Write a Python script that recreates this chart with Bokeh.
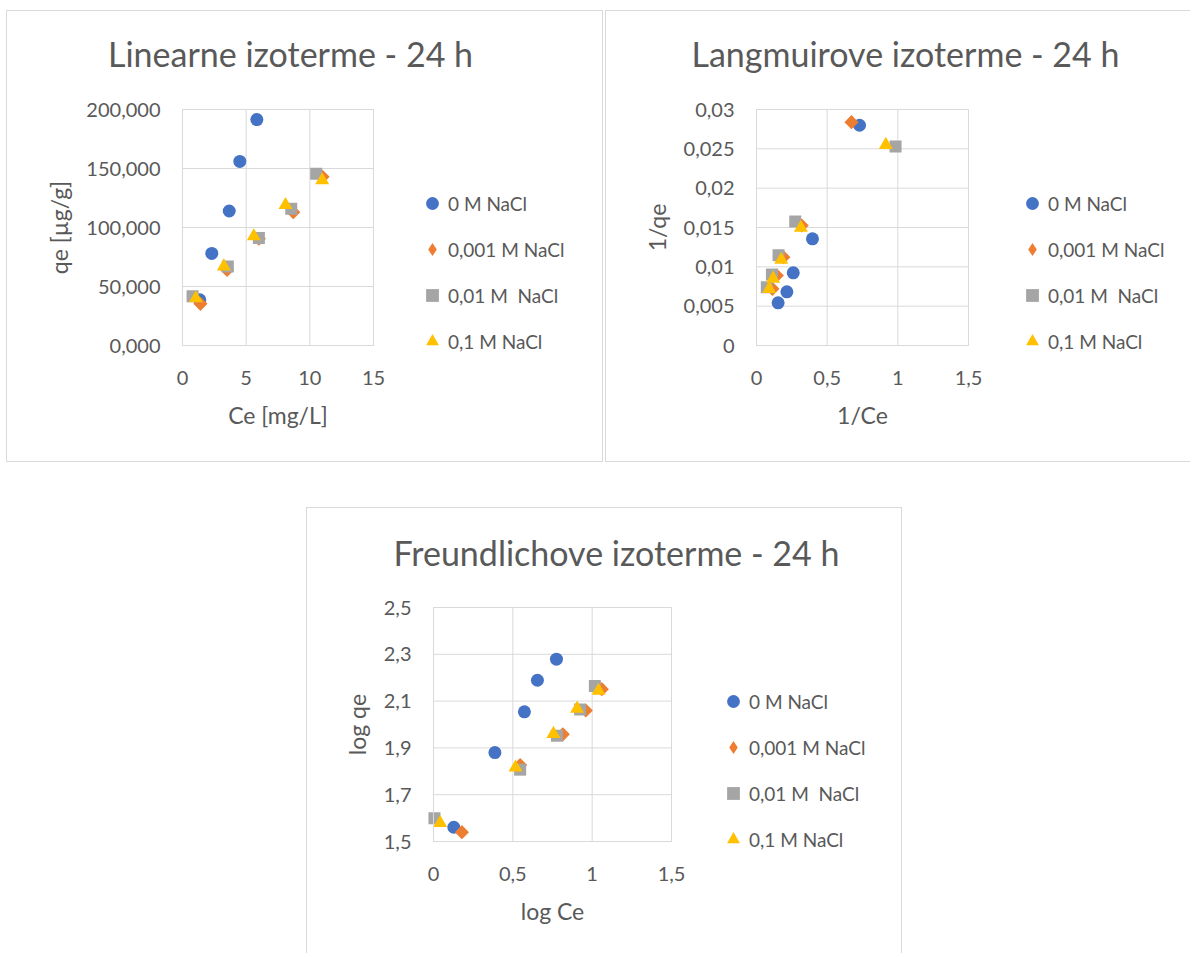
import math
from bokeh.plotting import figure
from bokeh.layouts import column, row
from bokeh.models import Range1d, FixedTicker, Legend, LegendItem, Spacer, Label
from bokeh.embed import file_html
from bokeh.resources import INLINE

# ---------------- data ----------------
series_labels = ["0 M NaCl", "0,001 M NaCl", "0,01 M  NaCl", "0,1 M NaCl"]

# Linearne izoterme: Ce [mg/L] vs qe [µg/g]
lin_ce_0 = [1.36, 2.30, 3.67, 4.50, 5.84]
lin_qe_0 = [38.7, 78.0, 114.0, 156.0, 191.5]
lin_ce_001 = [1.41, 3.50, 6.00, 8.70, 11.00]
lin_qe_001 = [35.3, 64.0, 90.5, 113.0, 143.0]
lin_ce_01 = [0.79, 3.56, 6.00, 8.54, 10.50]
lin_qe_01 = [41.8, 67.0, 91.0, 115.8, 145.5]
lin_ce_1 = [1.05, 3.25, 5.60, 8.09, 10.97]
lin_qe_1 = [40.0, 67.0, 92.6, 119.0, 140.0]

# Langmuirove izoterme: 1/Ce vs 1/qe
lang_x_0 = [0.153, 0.215, 0.260, 0.396, 0.729]
lang_y_0 = [0.00543, 0.00682, 0.00924, 0.01356, 0.0280]
lang_x_001 = [0.113, 0.144, 0.190, 0.320, 0.672]
lang_y_001 = [0.0072, 0.0089, 0.01123, 0.01525, 0.02839]
lang_x_01 = [0.073, 0.109, 0.156, 0.274, 0.984]
lang_y_01 = [0.0074, 0.00902, 0.01148, 0.01576, 0.0253]
lang_x_1 = [0.090, 0.118, 0.175, 0.314, 0.915]
lang_y_1 = [0.0072, 0.0085, 0.0109, 0.01496, 0.0255]

# Freundlichove izoterme: log Ce vs log qe
fr_x_0 = [0.128, 0.387, 0.573, 0.655, 0.775]
fr_y_0 = [1.561, 1.880, 2.054, 2.189, 2.279]
fr_x_001 = [0.179, 0.546, 0.815, 0.960, 1.061]
fr_y_001 = [1.540, 1.827, 1.958, 2.060, 2.151]
fr_x_01 = [0.006, 0.546, 0.778, 0.924, 1.017]
fr_y_01 = [1.599, 1.807, 1.952, 2.064, 2.164]
fr_x_1 = [0.042, 0.517, 0.756, 0.905, 1.040]
fr_y_1 = [1.579, 1.816, 1.960, 2.068, 2.144]

# tick values and labels
lin_xticks = [0, 5, 10, 15]
lin_xlabels = ["0", "5", "10", "15"]
lin_yticks = [0, 50, 100, 150, 200]
lin_ylabels = ["0,000", "50,000", "100,000", "150,000", "200,000"]
lang_xticks = [0, 0.5, 1, 1.5]
lang_xlabels = ["0", "0,5", "1", "1,5"]
lang_yticks = [0, 0.005, 0.01, 0.015, 0.02, 0.025, 0.03]
lang_ylabels = ["0", "0,005", "0,01", "0,015", "0,02", "0,025", "0,03"]
fr_xticks = [0, 0.5, 1, 1.5]
fr_xlabels = ["0", "0,5", "1", "1,5"]
fr_yticks = [1.5, 1.7, 1.9, 2.1, 2.3, 2.5]
fr_ylabels = ["1,5", "1,7", "1,9", "2,1", "2,3", "2,5"]

# ---------------- style ----------------
FONT = "Lato"
TXT = "#595959"
GRID = "#d9d9d9"
COLORS = ["#4472C4", "#ED7D31", "#A5A5A5", "#FFC000"]
MARKERS = ["circle", "square", "square", "triangle"]
LEGEND_MARKERS = ["circle", "diamond", "square", "triangle"]
ANGLES = [0, math.pi / 4, 0, 0]
SIZES = [13, 10, 12, 14]
BORDER = "1px solid #d9d9d9"


def padded(lo, hi, a, b, n):
    """range whose [lo, hi] maps onto pixels a..b of an n-pixel frame"""
    s = (hi - lo) / (b - a)
    return lo - a * s, hi + (n - b) * s


def make_chart(title, xlabel, ylabel, xs, ys, xticks, xlabels, yticks, ylabels, geo, border_css):
    W, H, L, R, T, B = geo["W"], geo["H"], geo["L"], geo["R"], geo["T"], geo["B"]
    xlo, xhi = xticks[0], xticks[-1]
    ylo, yhi = yticks[0], yticks[-1]
    p = figure(width=W, height=H, output_backend="svg", toolbar_location=None,
               x_range=Range1d(*padded(xlo, xhi, L, R, W)),
               y_range=Range1d(*padded(ylo, yhi, H - B, H - T, H)),
               min_border_left=0, min_border_right=0, min_border_top=0, min_border_bottom=0,
               background_fill_color="white", border_fill_color="white",
               outline_line_color=None)
    p.styles = border_css
    p.xgrid.visible = False
    p.ygrid.visible = False

    # plot-area grid lines at the tick positions
    p.segment(x0=xticks, y0=[ylo] * len(xticks), x1=xticks, y1=[yhi] * len(xticks),
              line_color=GRID, line_width=1)
    p.segment(x0=[xlo] * len(yticks), y0=yticks, x1=[xhi] * len(yticks), y1=yticks,
              line_color=GRID, line_width=1)

    legend_rends = []
    for i in range(4):
        key = None
        if LEGEND_MARKERS[i] != MARKERS[i]:
            # same points as a small diamond, fully covered by the rotated square drawn
            # on top; it provides the diamond key in the legend
            key = p.scatter(xs[i], ys[i], marker=LEGEND_MARKERS[i], size=8,
                            fill_color=COLORS[i], line_color=None)
        r = p.scatter(xs[i], ys[i], marker=MARKERS[i], size=SIZES[i], angle=ANGLES[i],
                      fill_color=COLORS[i], line_color=None)
        legend_rends.append(key if key is not None else r)

    for ax, ticks, labels, loc in ((p.xaxis[0], xticks, xlabels, ylo),
                                   (p.yaxis[0], yticks, ylabels, xlo)):
        ax.fixed_location = loc
        ax.bounds = (ticks[0], ticks[-1])
        ax.ticker = FixedTicker(ticks=ticks)
        ax.major_label_overrides = {t: l for t, l in zip(ticks, labels)}
        ax.major_tick_out = 0
        ax.major_tick_in = 0
        ax.minor_tick_out = 0
        ax.minor_tick_in = 0
        ax.axis_line_color = GRID
        ax.major_label_text_font = FONT
        ax.major_label_text_font_size = "20px"
        ax.major_label_text_color = TXT
        ax.axis_label_text_font = FONT
        ax.axis_label_text_font_size = "23px"
        ax.axis_label_text_font_style = "normal"
        ax.axis_label_text_color = TXT
    p.xaxis.axis_label = xlabel
    p.yaxis.axis_label = ylabel
    p.xaxis.major_label_standoff = 25
    p.xaxis.axis_label_standoff = 13
    p.yaxis.major_label_standoff = 22
    p.yaxis.axis_label_standoff = 10

    legend = Legend(items=[LegendItem(label=series_labels[i], renderers=[legend_rends[i]])
                           for i in range(4)],
                    location=geo["leg"], orientation="vertical", padding=0, margin=0,
                    spacing=14, glyph_width=32, glyph_height=32, label_height=32,
                    label_standoff=0, label_text_font=FONT, label_text_font_size="19px",
                    label_text_color=TXT, border_line_color=None, background_fill_alpha=0)
    p.add_layout(legend, "center")

    p.add_layout(Label(x=geo["title"][0], y=geo["title"][1], x_units="screen", y_units="screen",
                       text=title, text_align="center", text_baseline="middle",
                       text_font=FONT, text_font_size="34px", text_color=TXT))
    return p


p1 = make_chart("Linearne izoterme - 24 h", "Ce [mg/L]", "qe [µg/g]",
                [lin_ce_0, lin_ce_001, lin_ce_01, lin_ce_1],
                [lin_qe_0, lin_qe_001, lin_qe_01, lin_qe_1],
                lin_xticks, lin_xlabels, lin_yticks, lin_ylabels,
                dict(W=597, H=452, L=175, R=366, T=98, B=334, leg=(409, 106), title=(283, 410)),
                {"border": BORDER})

p2 = make_chart("Langmuirove izoterme - 24 h", "1/Ce", "1/qe",
                [lang_x_0, lang_x_001, lang_x_01, lang_x_1],
                [lang_y_0, lang_y_001, lang_y_01, lang_y_1],
                lang_xticks, lang_xlabels, lang_yticks, lang_ylabels,
                dict(W=585, H=452, L=150, R=362, T=98, B=334, leg=(410, 106), title=(299, 410)),
                {"border-left": BORDER, "border-top": BORDER, "border-bottom": BORDER})

p3 = make_chart("Freundlichove izoterme - 24 h", "log Ce", "log qe",
                [fr_x_0, fr_x_001, fr_x_01, fr_x_1],
                [fr_y_0, fr_y_001, fr_y_01, fr_y_1],
                fr_xticks, fr_xlabels, fr_yticks, fr_ylabels,
                dict(W=596, H=446, L=126, R=364, T=99, B=333, leg=(410, 99), title=(309, 402)),
                {"border-left": BORDER, "border-top": BORDER, "border-right": BORDER})

root = column(Spacer(height=10),
              row(Spacer(width=6), p1, Spacer(width=2), p2),
              Spacer(height=45),
              row(Spacer(width=306), p3))

open("out.html", "w").write(file_html(root, INLINE))
